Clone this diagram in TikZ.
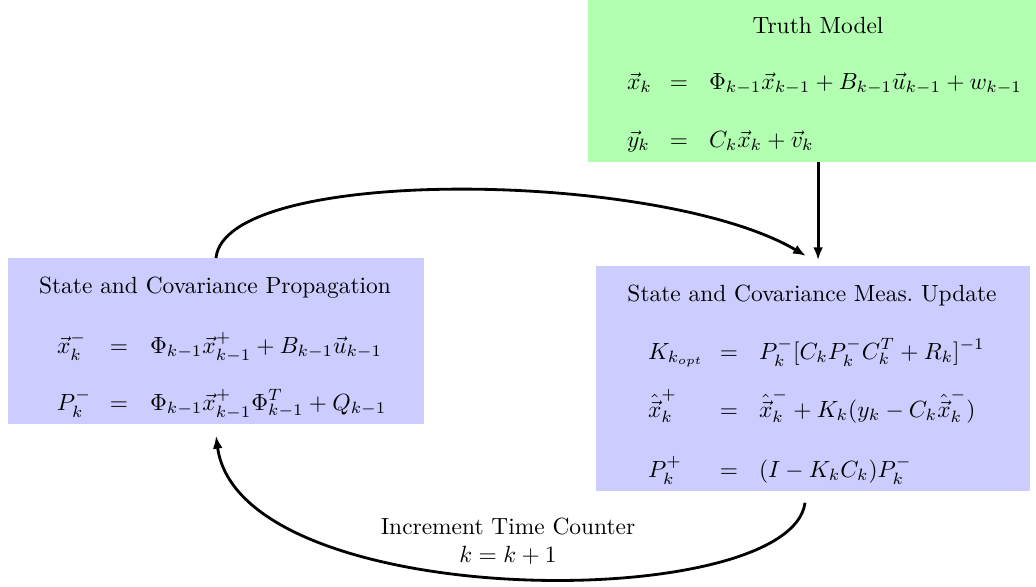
\documentclass[tikz,border=0pt]{standalone}
\usetikzlibrary{fit,arrows.meta}
\newcommand{\eqrow}[7]{%
  \node[eqtxt,anchor=base west] (#1l) at (#2,#5) {$\displaystyle #6$};
  \node[eqtxt,anchor=base] (#1e) at (#3,#5) {$=$};
  \node[eqtxt,anchor=base west] (#1r) at (#4,#5) {$\displaystyle #7$};}
\begin{document}
\begin{tikzpicture}[x=0.427pt,y=-0.427pt,
  gbox/.style={fill=green!30,inner sep=0pt,outer sep=0pt},
  bbox/.style={fill=blue!20,inner sep=0pt,outer sep=0pt},
  txt/.style={inner sep=0pt,outer sep=0pt},
  eqtxt/.style={txt,text height=8pt,text depth=3.5pt},
  arr/.style={line width=1.2pt,-{Latex[length=5.5pt,width=4.2pt]}}]
\useasboundingbox (0,0) rectangle (1036,586);
% boxes
\node[gbox,fit={(588,0) (1036,162)}] (truth) {};
\node[bbox,fit={(8,258) (424,424)}] (left) {};
\node[bbox,fit={(596,266) (1030,491)}] (right) {};
% truth model
\node[txt,anchor=base] (ttitle) at (818,33) {Truth Model};
\eqrow{ta}{627}{679}{709}{89}{\vec{x}_k}{\Phi_{k-1}\vec{x}_{k-1}+B_{k-1}\vec{u}_{k-1}+w_{k-1}}
\eqrow{tb}{627}{679}{709}{147}{\vec{y}_k}{C_k\vec{x}_k+\vec{v}_k}
% propagation
\node[txt,anchor=base] (ltitle) at (215,293) {State and Covariance Propagation};
\eqrow{la}{57}{119}{150}{353}{\vec{x}_k^-}{\Phi_{k-1}\vec{x}_{k-1}^+ + B_{k-1}\vec{u}_{k-1}}
\eqrow{lb}{57}{119}{150}{410}{P_k^-}{\Phi_{k-1}\vec{x}_{k-1}^+\Phi_{k-1}^T + Q_{k-1}}
% update
\node[txt,anchor=base] (rtitle) at (812,301) {State and Covariance Meas.\ Update};
\eqrow{ra}{648}{729}{759}{359}{K_{k_{opt}}}{P_k^-[C_kP_k^-C_k^T+R_k]^{-1}}
\eqrow{rb}{648}{729}{759}{417}{\hat{\vec{x}}_k^+}{\hat{\vec{x}}_k^- + K_k(y_k-C_k\hat{\vec{x}}_k^-)}
\eqrow{rc}{648}{729}{759}{477}{P_k^+}{(I-K_kC_k)P_k^-}
% counter label
\node[txt,align=center] (inc) at (508,541) {Increment Time Counter\\$k=k+1$};
% connectors
\draw[arr,shorten >=2.5pt] ([xshift=2.6pt]truth.south) -- ([xshift=2.6pt]truth.south |- right.north);
\draw[arr] (left.north) .. controls +(9,-93) and +(-146,-86) .. ([xshift=-3pt,yshift=4.3pt]right.north);
\draw[arr] ([xshift=-3.4pt,yshift=-5pt]right.south) .. controls +(-15,112) and +(24,178) .. ([yshift=-5pt]left.south);
\end{tikzpicture}
\end{document}
